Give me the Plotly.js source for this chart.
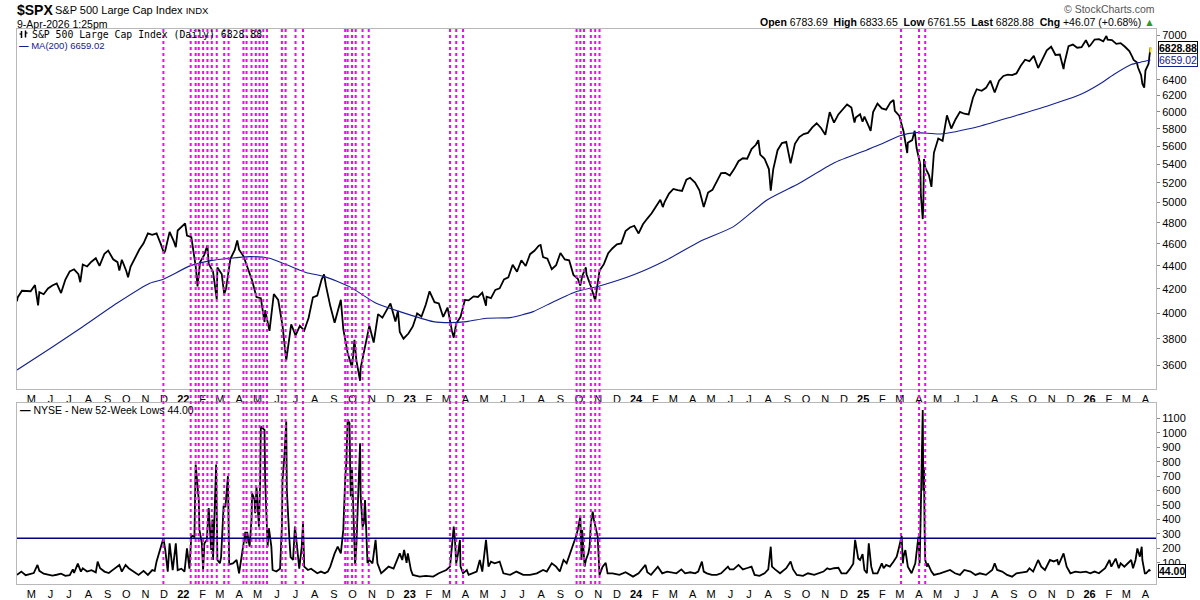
<!DOCTYPE html>
<html>
<head>
<meta charset="utf-8">
<script src="https://cdn.plot.ly/plotly-3.0.1.min.js"></script>
<style>html,body{margin:0;padding:0;background:#fff;}#chart{width:1200px;height:600px;}</style>
</head>
<body>
<div id="chart"></div>
<script>
// ---------- DATA ----------
const priceSeries = [
['2021-04-08',4097],['2021-04-09',4129],['2021-04-16',4185],['2021-04-23',4180],['2021-04-30',4181],['2021-05-07',4233],['2021-05-12',4063],['2021-05-14',4174],['2021-05-21',4156],['2021-05-28',4204],
['2021-06-04',4230],['2021-06-11',4247],['2021-06-18',4166],['2021-06-25',4281],['2021-07-02',4352],['2021-07-09',4370],['2021-07-16',4327],['2021-07-19',4258],['2021-07-23',4412],['2021-07-30',4395],
['2021-08-06',4437],['2021-08-13',4468],['2021-08-19',4400],['2021-08-27',4509],['2021-09-02',4537],['2021-09-10',4459],['2021-09-17',4433],['2021-09-20',4358],['2021-09-24',4455],['2021-10-01',4357],
['2021-10-04',4300],['2021-10-08',4391],['2021-10-15',4471],['2021-10-22',4545],['2021-10-29',4605],['2021-11-05',4697],['2021-11-12',4683],['2021-11-19',4698],['2021-11-26',4595],['2021-12-01',4513],
['2021-12-03',4538],['2021-12-10',4712],['2021-12-17',4620],['2021-12-20',4568],['2021-12-23',4725],['2021-12-31',4766],
['2022-01-04',4793],['2022-01-07',4677],['2022-01-14',4662],['2022-01-21',4398],['2022-01-24',4222],['2022-01-28',4432],['2022-02-04',4501],['2022-02-09',4587],['2022-02-11',4419],['2022-02-18',4349],
['2022-02-24',4114],['2022-02-25',4385],['2022-03-04',4329],['2022-03-08',4157],['2022-03-11',4204],['2022-03-18',4463],['2022-03-25',4543],['2022-03-29',4632],['2022-04-01',4546],['2022-04-08',4488],
['2022-04-14',4393],['2022-04-22',4272],['2022-04-29',4132],['2022-05-06',4123],['2022-05-12',3930],['2022-05-13',4024],['2022-05-20',3860],['2022-05-27',4158],['2022-06-03',4109],['2022-06-10',3901],
['2022-06-16',3637],['2022-06-17',3675],['2022-06-24',3912],['2022-07-01',3825],['2022-07-08',3899],['2022-07-15',3863],['2022-07-22',3962],['2022-07-29',4130],['2022-08-05',4145],['2022-08-12',4280],
['2022-08-16',4325],['2022-08-19',4228],['2022-08-26',4058],['2022-09-02',3924],['2022-09-09',4067],['2022-09-12',4110],['2022-09-16',3873],['2022-09-23',3693],['2022-09-30',3586],['2022-10-04',3791],
['2022-10-07',3640],['2022-10-13',3491],['2022-10-14',3583],['2022-10-21',3753],['2022-10-28',3901],['2022-11-04',3771],['2022-11-11',3993],['2022-11-18',3965],['2022-11-25',4026],['2022-12-01',4080],
['2022-12-09',3934],['2022-12-13',4019],['2022-12-16',3852],['2022-12-22',3800],['2022-12-30',3840],
['2023-01-06',3895],['2023-01-13',3999],['2023-01-20',3973],['2023-01-27',4071],['2023-02-02',4180],['2023-02-10',4090],['2023-02-17',4079],['2023-02-24',3970],['2023-03-03',4046],['2023-03-10',3862],
['2023-03-13',3808],['2023-03-17',3917],['2023-03-24',3971],['2023-03-31',4109],['2023-04-06',4105],['2023-04-14',4138],['2023-04-21',4133],['2023-04-28',4169],['2023-05-04',4061],['2023-05-05',4136],
['2023-05-12',4124],['2023-05-19',4192],['2023-05-26',4205],['2023-06-02',4282],['2023-06-09',4299],['2023-06-16',4410],['2023-06-23',4348],['2023-06-30',4450],['2023-07-07',4399],['2023-07-14',4505],
['2023-07-21',4536],['2023-07-28',4582],['2023-07-31',4589],['2023-08-04',4478],['2023-08-11',4464],['2023-08-18',4370],['2023-08-25',4406],['2023-09-01',4516],['2023-09-08',4457],['2023-09-15',4450],
['2023-09-22',4320],['2023-09-29',4288],['2023-10-03',4229],['2023-10-06',4309],['2023-10-12',4386],['2023-10-13',4327],['2023-10-20',4224],['2023-10-27',4104],['2023-11-03',4358],['2023-11-10',4415],
['2023-11-17',4514],['2023-11-24',4559],['2023-12-01',4595],['2023-12-08',4604],['2023-12-15',4719],['2023-12-22',4754],['2023-12-29',4770],
['2024-01-05',4697],['2024-01-12',4784],['2024-01-19',4840],['2024-01-26',4891],['2024-02-02',4959],['2024-02-09',5027],['2024-02-13',4953],['2024-02-16',5006],['2024-02-23',5089],['2024-03-01',5137],
['2024-03-08',5124],['2024-03-15',5117],['2024-03-22',5234],['2024-03-28',5254],['2024-04-05',5204],['2024-04-12',5123],['2024-04-19',4953],['2024-04-26',5100],['2024-05-03',5128],['2024-05-10',5223],
['2024-05-17',5303],['2024-05-24',5305],['2024-05-31',5278],['2024-06-07',5347],['2024-06-14',5432],['2024-06-21',5465],['2024-06-28',5460],['2024-07-05',5567],['2024-07-12',5615],['2024-07-16',5667],
['2024-07-19',5505],['2024-07-26',5459],['2024-08-02',5347],['2024-08-05',5119],['2024-08-09',5344],['2024-08-16',5554],['2024-08-23',5634],['2024-08-30',5648],['2024-09-06',5408],['2024-09-13',5626],
['2024-09-20',5703],['2024-09-27',5738],['2024-10-04',5751],['2024-10-11',5815],['2024-10-18',5864],['2024-10-25',5808],['2024-11-01',5729],['2024-11-08',5996],['2024-11-15',5871],['2024-11-22',5969],
['2024-11-29',6032],['2024-12-06',6090],['2024-12-13',6051],['2024-12-18',5872],['2024-12-20',5931],['2024-12-27',5971],['2024-12-31',5882],
['2025-01-03',5942],['2025-01-10',5827],['2025-01-13',5773],['2025-01-17',5997],['2025-01-24',6101],['2025-01-31',6041],['2025-02-07',6026],['2025-02-14',6115],['2025-02-19',6144],['2025-02-21',6013],
['2025-02-28',5955],['2025-03-07',5770],['2025-03-13',5522],['2025-03-14',5639],['2025-03-21',5668],['2025-03-25',5776],['2025-03-28',5581],['2025-04-03',5397],['2025-04-04',5074],['2025-04-07',4835],
['2025-04-08',4982],['2025-04-09',5457],['2025-04-11',5363],['2025-04-17',5283],['2025-04-21',5158],['2025-04-25',5525],['2025-05-02',5686],['2025-05-09',5660],['2025-05-16',5958],['2025-05-23',5802],
['2025-05-30',5912],['2025-06-06',6000],['2025-06-13',5977],['2025-06-20',5968],['2025-06-27',6173],['2025-07-03',6279],['2025-07-11',6260],['2025-07-18',6297],['2025-07-25',6389],['2025-08-01',6238],
['2025-08-08',6389],['2025-08-15',6450],['2025-08-22',6467],['2025-08-29',6460],['2025-09-05',6482],['2025-09-12',6584],['2025-09-19',6664],['2025-09-26',6644],['2025-10-03',6716],['2025-10-10',6553],
['2025-10-17',6664],['2025-10-24',6791],['2025-10-31',6840],['2025-11-07',6728],['2025-11-14',6734],['2025-11-20',6540],['2025-11-21',6603],['2025-11-28',6849],['2025-12-05',6870],['2025-12-12',6827],
['2025-12-19',6834],['2025-12-26',6930],['2025-12-31',6845],
['2026-01-02',6858],['2026-01-09',6940],['2026-01-16',6945],['2026-01-23',6915],['2026-01-28',6990],['2026-01-30',6939],['2026-02-06',6932],['2026-02-13',6880],['2026-02-20',6890],['2026-02-27',6840],
['2026-03-06',6780],['2026-03-11',6700],['2026-03-13',6660],['2026-03-18',6630],['2026-03-20',6560],['2026-03-25',6460],['2026-03-27',6350],['2026-03-30',6300],['2026-04-01',6520],['2026-04-06',6610],
['2026-04-08',6783],['2026-04-09',6828.88]
];

const ma200Series = [
['2021-04-08',3568],['2021-06-01',3727],['2021-07-23',3893],['2021-09-16',4081],['2021-11-08',4249],['2021-11-30',4284],['2022-01-12',4400],['2022-02-14',4447],['2022-04-18',4483],['2022-05-20',4468],
['2022-07-07',4364],['2022-07-19',4340],['2022-08-17',4306],['2022-09-26',4220],['2022-11-08',4081],['2022-12-16',4013],['2023-02-08',3933],['2023-03-07',3925],['2023-04-03',3933],['2023-05-05',3960],
['2023-06-12',3965],['2023-07-19',4013],['2023-08-21',4094],['2023-09-27',4178],['2023-11-03',4226],['2023-12-27',4320],['2024-02-19',4453],['2024-04-12',4620],['2024-06-06',4762],['2024-07-30',5024],
['2024-09-20',5196],['2024-11-14',5410],['2025-01-07',5557],['2025-01-28',5617],['2025-02-28',5716],['2025-03-28',5754],['2025-05-05',5739],['2025-07-08',5829],['2025-09-01',5948],['2025-10-24',6069],
['2025-12-17',6212],['2026-01-16',6339],['2026-02-09',6468],['2026-03-09',6599],['2026-03-24',6630],['2026-04-09',6659.02]
];

const newLowsSeries = [
['2021-04-08',17],['2021-04-15',40],['2021-04-22',15],['2021-04-29',22],['2021-05-05',30],['2021-05-11',86],['2021-05-14',45],['2021-05-21',25],['2021-05-28',17],['2021-06-04',12],
['2021-06-11',18],['2021-06-18',25],['2021-06-25',10],['2021-07-02',15],['2021-07-07',55],['2021-07-09',30],['2021-07-15',95],['2021-07-20',40],['2021-07-23',63],['2021-07-30',40],
['2021-08-06',50],['2021-08-13',35],['2021-08-16',109],['2021-08-20',63],['2021-08-27',40],['2021-09-03',30],['2021-09-09',50],['2021-09-20',86],['2021-09-24',40],['2021-09-30',86],
['2021-10-05',63],['2021-10-13',40],['2021-10-21',17],['2021-10-29',45],['2021-11-05',17],['2021-11-12',50],['2021-11-16',45],['2021-11-19',110],['2021-11-24',190],['2021-11-30',270],
['2021-12-03',190],['2021-12-07',40],['2021-12-10',235],['2021-12-15',50],['2021-12-20',235],['2021-12-23',50],['2021-12-29',60],
['2022-01-03',40],['2022-01-07',200],['2022-01-11',60],['2022-01-14',290],['2022-01-19',280],['2022-01-21',780],['2022-01-24',600],['2022-01-26',535],['2022-01-27',330],['2022-01-31',235],
['2022-02-02',50],['2022-02-04',235],['2022-02-08',259],['2022-02-11',480],['2022-02-15',190],['2022-02-17',400],['2022-02-18',120],['2022-02-23',780],['2022-02-25',120],['2022-03-01',97],
['2022-03-03',140],['2022-03-07',490],['2022-03-10',490],['2022-03-14',700],['2022-03-15',400],['2022-03-16',90],['2022-03-22',97],['2022-03-28',120],['2022-04-01',28],['2022-04-06',166],
['2022-04-11',315],['2022-04-13',235],['2022-04-14',315],['2022-04-18',212],['2022-04-21',400],['2022-04-22',582],['2022-04-26',535],['2022-04-27',443],['2022-04-29',627],['2022-05-03',351],
['2022-05-05',674],['2022-05-06',1042],['2022-05-10',1030],['2022-05-12',1020],['2022-05-13',674],['2022-05-16',305],['2022-05-17',212],['2022-05-19',340],['2022-05-23',212],['2022-05-25',51],
['2022-05-31',40],['2022-06-06',60],['2022-06-09',351],['2022-06-10',674],['2022-06-13',835],['2022-06-16',1078],['2022-06-17',600],['2022-06-21',270],['2022-06-23',140],['2022-06-27',120],
['2022-06-30',351],['2022-07-01',315],['2022-07-05',166],['2022-07-07',60],['2022-07-11',212],['2022-07-13',374],['2022-07-15',74],['2022-07-21',51],['2022-07-26',60],['2022-08-01',40],
['2022-08-05',28],['2022-08-11',40],['2022-08-17',28],['2022-08-22',40],['2022-08-26',74],['2022-09-02',166],['2022-09-07',212],['2022-09-12',166],['2022-09-16',330],['2022-09-19',674],
['2022-09-21',812],['2022-09-23',1089],['2022-09-26',1066],['2022-09-27',766],['2022-09-28',560],['2022-09-30',743],['2022-10-03',351],['2022-10-05',90],['2022-10-07',212],['2022-10-10',560],
['2022-10-13',927],['2022-10-14',560],['2022-10-17',351],['2022-10-19',374],['2022-10-21',535],['2022-10-25',100],['2022-10-28',120],['2022-11-02',97],['2022-11-07',259],['2022-11-10',97],
['2022-11-16',28],['2022-11-22',51],['2022-11-28',74],['2022-12-06',60],['2022-12-12',120],['2022-12-16',166],['2022-12-20',120],['2022-12-23',190],['2022-12-27',100],['2022-12-29',166],
['2023-01-03',50],['2023-01-06',17],['2023-01-17',5],['2023-01-27',10],['2023-02-08',5],['2023-02-17',28],['2023-03-01',51],['2023-03-07',74],['2023-03-09',166],['2023-03-13',351],
['2023-03-15',259],['2023-03-17',97],['2023-03-20',166],['2023-03-23',259],['2023-03-24',74],['2023-03-28',28],['2023-04-03',51],['2023-04-06',17],['2023-04-19',40],['2023-04-24',120],
['2023-04-28',40],['2023-05-04',259],['2023-05-08',74],['2023-05-12',109],['2023-05-18',97],['2023-05-26',109],['2023-06-01',28],['2023-06-12',17],['2023-06-22',40],['2023-07-03',17],
['2023-07-14',17],['2023-07-25',28],['2023-08-04',51],['2023-08-10',40],['2023-08-18',97],['2023-08-25',74],['2023-08-31',40],['2023-09-06',120],['2023-09-11',97],['2023-09-15',143],
['2023-09-21',225],['2023-09-26',282],['2023-09-29',330],['2023-10-03',420],['2023-10-05',120],['2023-10-06',327],['2023-10-10',75],['2023-10-12',120],['2023-10-16',166],['2023-10-18',212],
['2023-10-20',374],['2023-10-23',455],['2023-10-25',397],['2023-10-27',351],['2023-10-31',282],['2023-11-03',17],['2023-11-08',74],['2023-11-13',100],['2023-11-16',28],['2023-11-24',28],
['2023-12-05',17],['2023-12-15',35],['2023-12-27',5],
['2024-01-05',28],['2024-01-16',86],['2024-01-19',35],['2024-01-25',17],['2024-02-05',74],['2024-02-12',28],['2024-02-20',40],['2024-02-27',35],['2024-03-06',28],['2024-03-14',55],
['2024-03-20',28],['2024-03-28',35],['2024-04-05',28],['2024-04-10',40],['2024-04-16',109],['2024-04-19',40],['2024-04-24',28],['2024-05-02',17],['2024-05-10',17],['2024-05-17',28],
['2024-05-28',74],['2024-05-31',55],['2024-06-06',55],['2024-06-14',86],['2024-06-21',55],['2024-06-27',63],['2024-07-05',74],['2024-07-10',17],['2024-07-18',10],['2024-07-26',28],
['2024-08-01',55],['2024-08-05',212],['2024-08-07',74],['2024-08-12',55],['2024-08-20',28],['2024-08-30',63],['2024-09-06',109],['2024-09-10',55],['2024-09-16',17],['2024-09-26',10],
['2024-10-04',28],['2024-10-14',17],['2024-10-21',28],['2024-10-29',40],['2024-11-04',63],['2024-11-08',55],['2024-11-15',63],['2024-11-22',66],['2024-11-27',28],['2024-12-05',28],
['2024-12-10',55],['2024-12-16',95],['2024-12-19',259],['2024-12-24',130],['2024-12-27',120],['2024-12-31',160],
['2025-01-03',51],['2025-01-07',28],['2025-01-10',235],['2025-01-14',74],['2025-01-17',28],['2025-01-24',28],['2025-01-31',97],['2025-02-03',63],['2025-02-07',86],['2025-02-13',74],
['2025-02-19',109],['2025-02-24',143],['2025-02-28',212],['2025-03-04',286],['2025-03-06',97],['2025-03-07',143],['2025-03-10',189],['2025-03-14',74],['2025-03-20',28],['2025-03-26',97],
['2025-03-31',282],['2025-04-02',97],['2025-04-03',280],['2025-04-04',560],['2025-04-07',1158],['2025-04-08',600],['2025-04-09',760],['2025-04-10',340],['2025-04-11',120],['2025-04-14',74],
['2025-04-15',97],['2025-04-21',40],['2025-04-25',17],['2025-05-05',28],['2025-05-13',40],['2025-05-21',51],['2025-05-29',28],['2025-06-06',17],['2025-06-13',51],['2025-06-23',40],
['2025-07-01',17],['2025-07-08',28],['2025-07-18',17],['2025-07-28',51],['2025-08-01',97],['2025-08-05',51],['2025-08-13',40],['2025-08-21',17],['2025-08-29',5],['2025-09-05',28],
['2025-09-15',35],['2025-09-22',40],['2025-09-26',63],['2025-10-02',40],['2025-10-10',120],['2025-10-15',74],['2025-10-21',51],['2025-10-29',120],['2025-11-04',110],['2025-11-10',120],
['2025-11-12',86],['2025-11-20',166],['2025-11-25',74],['2025-12-01',28],['2025-12-09',40],['2025-12-17',35],['2025-12-26',40],
['2026-01-02',28],['2026-01-09',40],['2026-01-16',28],['2026-01-26',63],['2026-02-02',120],['2026-02-05',74],['2026-02-12',130],['2026-02-17',63],['2026-02-20',97],['2026-02-26',74],
['2026-03-03',97],['2026-03-09',120],['2026-03-12',63],['2026-03-16',120],['2026-03-19',200],['2026-03-23',143],['2026-03-26',212],['2026-03-27',120],['2026-03-31',28],['2026-04-02',28],
['2026-04-07',51],['2026-04-09',44]
];

// days on which new lows exceeded the threshold (dotted magenta markers)
const signalDates = [
'2021-11-30','2022-01-13','2022-01-21','2022-01-26','2022-02-02','2022-02-09','2022-02-16','2022-02-24','2022-03-08','2022-03-15',
'2022-04-08','2022-04-13','2022-04-21','2022-04-28','2022-05-04','2022-05-10','2022-05-16','2022-06-09','2022-06-15','2022-07-01',
'2022-07-13','2022-09-19','2022-09-23','2022-09-30','2022-10-06','2022-10-17','2022-10-27','2023-03-07','2023-03-17','2023-03-28',
'2023-09-27','2023-10-03','2023-10-09','2023-10-20','2023-10-27','2023-11-03','2025-03-03','2025-04-01','2025-04-11'
];
const lowsThreshold = 270;

const lastBarDate = ['2026-04-09','2026-04-09'];
const lastBarRange = [6761.55, 6833.65];
const lastClose = 6828.88, lastMA = 6659.02, lastLows = 44.00;

const monthTicks = [
'2021-05-01','2021-06-01','2021-07-01','2021-08-01','2021-09-01','2021-10-01','2021-11-01','2021-12-01',
'2022-01-01','2022-02-01','2022-03-01','2022-04-01','2022-05-01','2022-06-01','2022-07-01','2022-08-01','2022-09-01','2022-10-01','2022-11-01','2022-12-01',
'2023-01-01','2023-02-01','2023-03-01','2023-04-01','2023-05-01','2023-06-01','2023-07-01','2023-08-01','2023-09-01','2023-10-01','2023-11-01','2023-12-01',
'2024-01-01','2024-02-01','2024-03-01','2024-04-01','2024-05-01','2024-06-01','2024-07-01','2024-08-01','2024-09-01','2024-10-01','2024-11-01','2024-12-01',
'2025-01-01','2025-02-01','2025-03-01','2025-04-01','2025-05-01','2025-06-01','2025-07-01','2025-08-01','2025-09-01','2025-10-01','2025-11-01','2025-12-01',
'2026-01-01','2026-02-01','2026-03-01','2026-04-01'
];
const monthLabels = [
'M','J','J','A','S','O','N','D',
'<b>22</b>','F','M','A','M','J','J','A','S','O','N','D',
'<b>23</b>','F','M','A','M','J','J','A','S','O','N','D',
'<b>24</b>','F','M','A','M','J','J','A','S','O','N','D',
'<b>25</b>','F','M','A','M','J','J','A','S','O','N','D',
'<b>26</b>','F','M','A'
];
// price-axis labels (6600 and 6800 sit under the last-value boxes, as in the original)
const priceTicks = [3600,3800,4000,4200,4400,4600,4800,5000,5200,5400,5600,5800,6000,6200,6400,7000];
const lowsTicks = [100,200,300,400,500,600,700,800,900,1000,1100];

// ---------- CHART ----------
const FONT = 'Liberation Sans, Arial, sans-serif';
const NAVY = '#14208f';
const W = 1200, H = 600, ML = 17, MR = 44, MT = 29, MB = 16;
const PW = W - ML - MR, PH = H - MT - MB;
const px = p => (p - ML) / PW;
const py = p => (H - MB - p) / PH;

const traces = [
  {x: priceSeries.map(d => d[0]), y: priceSeries.map(d => d[1]), type: 'scatter', mode: 'lines',
   line: {color: '#000', width: 1.8}, xaxis: 'x', yaxis: 'y', hoverinfo: 'skip'},
  {x: ma200Series.map(d => d[0]), y: ma200Series.map(d => d[1]), type: 'scatter', mode: 'lines',
   line: {color: NAVY, width: 1.1, shape: 'spline', smoothing: 0.6}, xaxis: 'x', yaxis: 'y', hoverinfo: 'skip'},
  {x: lastBarDate, y: lastBarRange, type: 'scatter', mode: 'lines',
   line: {color: '#f5e000', width: 2}, xaxis: 'x', yaxis: 'y', hoverinfo: 'skip'},
  {x: newLowsSeries.map(d => d[0]), y: newLowsSeries.map(d => d[1]), type: 'scatter', mode: 'lines',
   line: {color: '#000', width: 1.8}, xaxis: 'x2', yaxis: 'y2', hoverinfo: 'skip'}
];

const shapes = signalDates.map(d => ({
  type: 'line', xref: 'x', yref: 'paper', x0: d, x1: d, y0: 0, y1: 1,
  line: {color: '#ff00ff', width: 2, dash: 'dot'}, layer: 'above'
}));
shapes.push({type: 'line', xref: 'paper', yref: 'y2', x0: 0, x1: 1, y0: lowsThreshold, y1: lowsThreshold,
  line: {color: '#000080', width: 1.5}, layer: 'above'});
// small OHLC-bar glyph in front of the price legend
[[21.5, 31, 38, 19.5, 34], [25.5, 30.5, 37.5, 27.5, 33]].forEach(g => {
  shapes.push({type: 'line', xref: 'paper', yref: 'paper', x0: px(g[0]), x1: px(g[0]), y0: py(g[1]), y1: py(g[2]), line: {color: '#000', width: 1.5}, layer: 'above'});
  shapes.push({type: 'line', xref: 'paper', yref: 'paper', x0: px(g[0]), x1: px(g[3]), y0: py(g[4]), y1: py(g[4]), line: {color: '#000', width: 1.2}, layer: 'above'});
});

const tf = {family: FONT, size: 11, color: '#000'};
const xCommon = {
  type: 'date', range: ['2021-04-08', '2026-04-18'], tickmode: 'array', tickvals: monthTicks, ticktext: monthLabels,
  ticks: '', showgrid: false, zeroline: false, showline: true, mirror: true, linecolor: '#b8b8b8', linewidth: 1,
  tickfont: tf
};

const boxFont = {family: FONT, size: 10.5, color: '#000'};
const annotations = [
  {text: '<b>$SPX</b>', xref: 'paper', yref: 'paper', x: px(15), y: py(10), xanchor: 'left', yanchor: 'middle', showarrow: false, font: {family: FONT, size: 14, color: '#000'}},
  {text: 'S&amp;P 500 Large Cap Index <span style="font-size:9.5px">INDX</span>', xref: 'paper', yref: 'paper', x: px(53), y: py(10), xanchor: 'left', yanchor: 'middle', showarrow: false, font: {family: FONT, size: 11, color: '#000'}},
  {text: '9-Apr-2026 1:25pm', xref: 'paper', yref: 'paper', x: px(15), y: py(23.5), xanchor: 'left', yanchor: 'middle', showarrow: false, font: {family: FONT, size: 10.5, color: '#000'}},
  {text: '\u00A9 StockCharts.com', xref: 'paper', yref: 'paper', x: px(1157), y: py(9.5), xanchor: 'right', yanchor: 'middle', showarrow: false, font: {family: FONT, size: 10.5, color: '#555'}},
  {text: '<b>Open</b> 6783.69  <b>High</b> 6833.65  <b>Low</b> 6761.55  <b>Last</b> 6828.88  <b>Chg</b> +46.07 (+0.68%) <span style="color:#2a9a2a">\u25B2</span>',
   xref: 'paper', yref: 'paper', x: px(1157), y: py(22.5), xanchor: 'right', yanchor: 'middle', showarrow: false, font: {family: FONT, size: 10.5, color: '#000'}},
  {text: 'S&amp;P 500 Large Cap Index (Daily) 6828.88', xref: 'paper', yref: 'paper', x: px(31), y: py(34.3), xanchor: 'left', yanchor: 'middle', showarrow: false, borderpad: 0,
   font: {family: 'DejaVu Sans Mono, monospace', size: 9.8, color: '#000'}},
  {text: '<b>\u2014</b> MA(200) 6659.02', xref: 'paper', yref: 'paper', x: px(18), y: py(45.5), xanchor: 'left', yanchor: 'middle', showarrow: false, borderpad: 0, font: {family: FONT, size: 9.5, color: NAVY}},
  {text: '<b>\u2014</b> NYSE - New 52-Week Lows 44.00', xref: 'paper', yref: 'paper', x: px(18), y: py(410), xanchor: 'left', yanchor: 'middle', showarrow: false, font: {family: FONT, size: 10.5, color: '#000'}},
  {text: '<b>' + lastClose.toFixed(2) + '</b>', xref: 'paper', yref: 'y', x: 1, y: Math.log10(lastClose), xanchor: 'left', xshift: 2, yanchor: 'middle', showarrow: false,
   bgcolor: '#fff', bordercolor: '#000', borderwidth: 1, borderpad: 0, font: boxFont},
  {text: lastMA.toFixed(2), xref: 'paper', yref: 'y', x: 1, y: Math.log10(lastMA), xanchor: 'left', xshift: 2, yanchor: 'middle', showarrow: false,
   bgcolor: '#fff', bordercolor: NAVY, borderwidth: 1, borderpad: 0, font: {family: FONT, size: 10.5, color: NAVY}},
  {text: '<b>' + lastLows.toFixed(2) + '</b>', xref: 'paper', yref: 'y2', x: 1, y: lastLows, xanchor: 'left', xshift: 2, yanchor: 'middle', showarrow: false,
   bgcolor: '#fff', bordercolor: '#000', borderwidth: 1, borderpad: 0, font: boxFont}
];

const layout = {
  width: W, height: H,
  margin: {l: ML, r: MR, t: MT, b: MB, pad: 0},
  paper_bgcolor: '#fff', plot_bgcolor: '#fff',
  showlegend: false,
  xaxis: Object.assign({}, xCommon, {anchor: 'y', domain: [0, 1]}),
  xaxis2: Object.assign({}, xCommon, {anchor: 'y2', domain: [0, 1], matches: 'x'}),
  yaxis: {type: 'log', range: [Math.log10(3434), Math.log10(7089)], domain: [py(389), 1], side: 'right',
    tickmode: 'array', tickvals: priceTicks, ticktext: priceTicks.map(String), ticks: 'outside', ticklen: 3, tickcolor: '#888',
    showgrid: false, zeroline: false, showline: true, mirror: true, linecolor: '#b8b8b8', tickfont: tf, anchor: 'x'},
  yaxis2: {range: [-46, 1206], domain: [0, py(403)], side: 'right',
    tickmode: 'array', tickvals: lowsTicks, ticktext: lowsTicks.map(String), ticks: 'outside', ticklen: 3, tickcolor: '#888',
    showgrid: false, zeroline: false, showline: true, mirror: true, linecolor: '#b8b8b8', tickfont: tf, anchor: 'x2'},
  shapes: shapes,
  annotations: annotations
};

Plotly.newPlot('chart', traces, layout, {displayModeBar: false, staticPlot: true});
</script>
</body>
</html>
